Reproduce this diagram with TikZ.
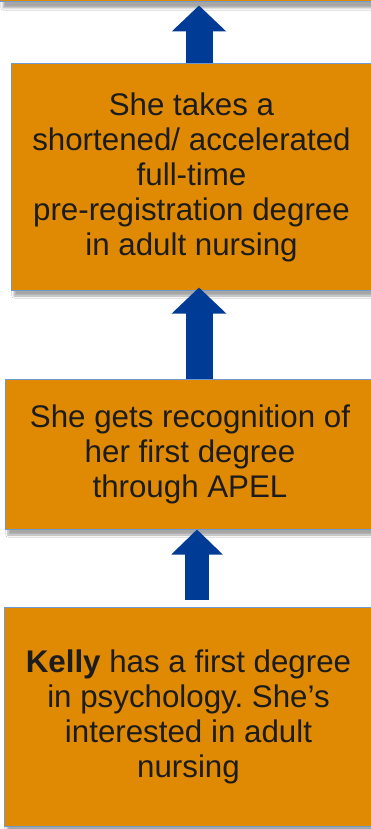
\documentclass[tikz,border=0pt]{standalone}
\usepackage{fontspec}
\setmainfont{Liberation Sans}
\usetikzlibrary{arrows.meta,shadows.blur}
\definecolor{boxorange}{HTML}{E08A04}
\definecolor{boxedge}{HTML}{6F9AD0}
\definecolor{arrowblue}{HTML}{003C96}
\definecolor{txt}{HTML}{1C1C1C}
\frenchspacing
\tikzset{
  stepbox/.style={draw=boxedge, line width=1pt, fill=boxorange, text=txt,
    align=center, font=\fontsize{31.3}{35}\selectfont, inner sep=0pt,
    blur shadow={shadow xshift=3pt, shadow yshift=-6pt, shadow blur steps=6, shadow opacity=35}},
  bigarrow/.style={draw=arrowblue, line width=27pt,
    -{Triangle[width=53pt,length=26pt]}}
}
\begin{document}
\begin{tikzpicture}[x=1pt,y=-1pt]
\useasboundingbox (0,0) rectangle (371,829);
\clip (0,0) rectangle (371,829);
\fill[white] (0,0) rectangle (371,829);
\node[stepbox, minimum width=380pt, minimum height=120pt] (box1) at (190,-58) {};
\node[stepbox, minimum width=361pt, minimum height=226pt] (box2) at (191.5,177)
  {She takes a\\shortened/ accelerated\\full-time\\pre-registration degree\\in adult nursing};
\node[stepbox, minimum width=370pt, minimum height=150pt] (box3) at (190,454)
  {She gets recognition of\\her first degree\\through APEL};
\node[stepbox, minimum width=369pt, minimum height=219pt] (box4) at (188.5,716.5)
  {\textbf{Kelly} has a first degree\\in psychology. She’s\\interested in adult\\nursing};
\coordinate (ax) at (199,0);
\coordinate (bx) at (197,0);
\draw[bigarrow] (box2.north -| ax) -- ([yshift=-3pt]box1.south -| ax);
\draw[bigarrow] (box3.north -| ax) -- ([yshift=3pt]box2.south -| ax);
\draw[bigarrow, line width=24pt, -{Triangle[width=50pt,length=25pt]}] ([yshift=7pt]box4.north -| bx) -- (box3.south -| bx);
\end{tikzpicture}
\end{document}
